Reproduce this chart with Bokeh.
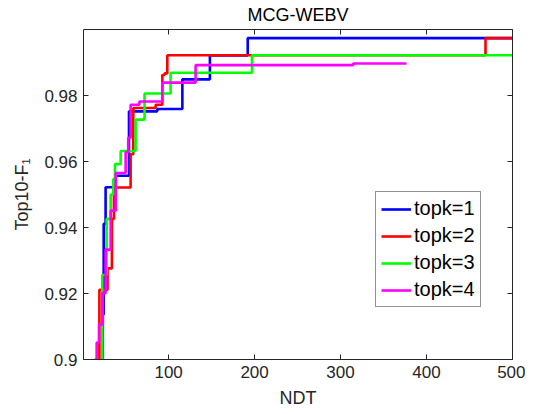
from bokeh.plotting import figure
from bokeh.models import (Range1d, LinearAxis, FixedTicker, Legend, LegendItem,
                          CustomLabelingPolicy)
from bokeh.embed import file_html
from bokeh.resources import INLINE

# ---- data ----
topk1_x = [22.5, 23.5, 24.5, 26.7, 38.4, 53.9, 86.8, 116, 148, 192, 500]
topk1_y = [0.900, 0.9136, 0.9411, 0.9522, 0.9557, 0.9752, 0.9759, 0.9849, 0.9921, 0.9974, 0.9974]

topk2_x = [18, 19.5, 29, 34, 36.4, 55.8, 58.9, 84.9, 92.7, 95.3, 98.5, 468.6, 500]
topk2_y = [0.900, 0.9211, 0.9276, 0.9426, 0.9521, 0.9622, 0.9762, 0.9772, 0.9862, 0.9867, 0.9922, 0.9974, 0.9974]

topk3_x = [21.5, 22.9, 27.9, 32.6, 35.7, 37.6, 44.2, 61.6, 72, 102.3, 197, 500]
topk3_y = [0.900, 0.9256, 0.9426, 0.950, 0.9547, 0.9592, 0.9632, 0.9727, 0.9806, 0.9869, 0.9922, 0.9922]

topk4_x = [14, 16.3, 19, 22.9, 26.7, 32.6, 38.5, 50, 53, 55.8, 66, 92.6, 131.4, 314.7, 376.7]
topk4_y = [0.900, 0.9051, 0.9106, 0.9201, 0.9333, 0.9451, 0.9565, 0.9628, 0.9672, 0.9772, 0.9782, 0.9839, 0.9892, 0.9897, 0.9897]

series_names = ["topk=1", "topk=2", "topk=3", "topk=4"]
series_colors = ["#0000FF", "#FF0000", "#00FF00", "#FF00FF"]

x_ticks = [100, 200, 300, 400, 500]
y_ticks = [0.9, 0.92, 0.94, 0.96, 0.98]
y_tick_labels = ["0.9", "0.92", "0.94", "0.96", "0.98"]

FONT = "Liberation Sans"
AX = "#262626"

p = figure(width=525, height=410, output_backend="svg", toolbar_location=None,
           x_range=Range1d(1, 500), y_range=Range1d(0.9, 1.0),
           min_border_left=83, min_border_right=13, min_border_top=29, min_border_bottom=48,
           background_fill_color="white", border_fill_color="white")

p.title.text = "MCG-WEBV"
p.title.align = "center"
p.title.text_font = FONT
p.title.text_font_size = "18px"
p.title.text_font_style = "normal"
p.title.text_color = "#000000"
p.title.standoff = 2
p.title.offset = 0

p.xgrid.visible = False
p.ygrid.visible = False
p.outline_line_color = None

xa = p.xaxis[0]
xa.ticker = FixedTicker(ticks=x_ticks)
ya = p.yaxis[0]
ya.ticker = FixedTicker(ticks=y_ticks)
ya.major_label_overrides = {t: s for t, s in zip(y_ticks, y_tick_labels)}
xa.axis_label = "NDT"
ya.axis_label = "Top10-F\u2081"
for a in (xa, ya):
    a.major_tick_in = 5
    a.major_tick_out = 0
    a.minor_tick_line_color = None
    a.axis_line_color = AX
    a.major_tick_line_color = AX
    a.major_label_text_font = FONT
    a.major_label_text_font_size = "17px"
    a.major_label_text_color = AX
    a.axis_label_text_font = FONT
    a.axis_label_text_font_size = "18px"
    a.axis_label_text_font_style = "normal"
    a.axis_label_text_color = AX
    a.major_label_standoff = 6
xa.axis_label_standoff = 7
ya.axis_label_standoff = 9

top = LinearAxis(ticker=FixedTicker(ticks=x_ticks),
                 major_label_policy=CustomLabelingPolicy(code="return new Set()"),
                 major_label_text_font_size="1px",
                 major_label_standoff=0, major_tick_in=5, major_tick_out=0,
                 minor_tick_line_color=None, axis_line_color=AX, major_tick_line_color=AX)
right = LinearAxis(ticker=FixedTicker(ticks=y_ticks),
                   major_label_policy=CustomLabelingPolicy(code="return new Set()"),
                   major_label_text_font_size="1px",
                   major_label_standoff=0, major_tick_in=5, major_tick_out=0,
                   minor_tick_line_color=None, axis_line_color=AX, major_tick_line_color=AX)
p.add_layout(top, "above")
p.add_layout(right, "right")

xs_all = [topk1_x, topk2_x, topk3_x, topk4_x]
ys_all = [topk1_y, topk2_y, topk3_y, topk4_y]
items = []
for xs, ys, name, col in zip(xs_all, ys_all, series_names, series_colors):
    r = p.step(xs, ys, mode="after", line_color=col, line_width=2.6)
    items.append(LegendItem(label=name, renderers=[r]))

legend = Legend(items=items, location=(292, 52),
                label_text_font=FONT, label_text_font_size="20px", label_text_color="#000000",
                glyph_width=30, glyph_height=20, label_height=20, spacing=4, padding=5,
                label_standoff=3, margin=0,
                border_line_color=AX, border_line_width=1,
                background_fill_color="white", background_fill_alpha=1.0)
p.add_layout(legend)

open("out.html", "w").write(file_html(p, INLINE))
